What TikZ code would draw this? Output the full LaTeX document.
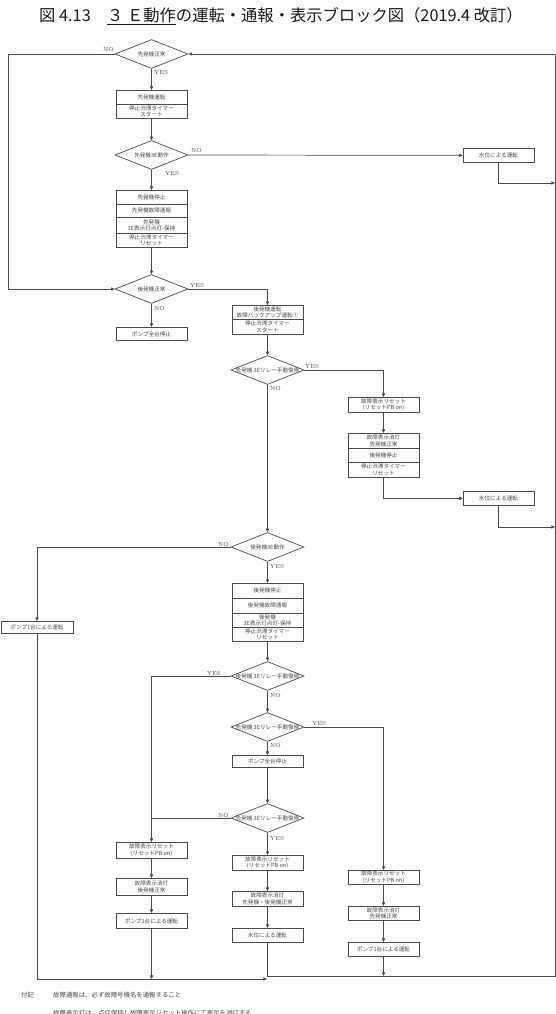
\documentclass[tikz,border=0pt]{standalone}
\usepackage{fontspec}
\newfontfamily\jp{Noto Sans CJK JP}
\usetikzlibrary{shapes.geometric,arrows.meta}
\definecolor{linegray}{HTML}{4A4A4A}
\definecolor{txtgray}{HTML}{474747}
\begin{document}
\begin{tikzpicture}[x=1pt,y=-1pt,
  line/.style={draw=linegray,line width=0.7pt},
  arr/.style={line,-{Triangle[length=3.6pt,width=3.2pt]}},
  dtxt/.style={font=\jp\fontsize{5.6}{6.5}\selectfont,text=txtgray,inner sep=0pt},
  dia/.style={diamond,draw=linegray,line width=0.7pt,minimum width=73pt,minimum height=29pt,inner sep=0pt},
  cell/.style={rectangle,draw=linegray,line width=0.7pt,minimum width=71pt,inner sep=0pt,anchor=north,
    font=\jp\fontsize{5.6}{6.5}\selectfont,text=txtgray,align=center},
  yn/.style={font=\fontsize{5.8}{6}\selectfont,text=txtgray,inner sep=0pt},
  foot/.style={font=\jp\fontsize{6.4}{7}\selectfont,text=txtgray,inner sep=0pt},
  ttl/.style={font=\jp\fontsize{16.3}{18}\selectfont,text=black!90,inner sep=0pt}
]
\useasboundingbox (0,0) rectangle (556,1014);

% title
\node[ttl] (title) at (281,16) {図 4.13\hspace{1em}\underline{３ Ｅ動作}の運転・通報・表示ブロック図（2019.4 改訂）};

% decisions
\node[dia,label={[dtxt]center:先発機正常}] (d1) at (151.5,54) {};
\node[dia,label={[dtxt]center:先発機3E動作}] (d2) at (151.5,155) {};
\node[dia,label={[dtxt]center:後発機正常}] (d3) at (151.5,289) {};
\node[dia,label={[dtxt]center:先発機 3Eリレー手動復帰}] (d4) at (267.5,370) {};
\node[dia,label={[dtxt]center:後発機3E動作}] (d5) at (267.5,547) {};
\node[dia,label={[dtxt]center:後発機 3Eリレー手動復帰}] (d6) at (267.5,676) {};
\node[dia,label={[dtxt]center:先発機 3Eリレー手動復帰}] (d7) at (267.5,727) {};
\node[dia,label={[dtxt]center:先発機 3Eリレー手動復帰}] (d8) at (267.5,818) {};

% process boxes
\node[cell,minimum height=14pt] (b1a) at (151.5,90) {先発機運転};
\node[cell,minimum height=14pt] (b1b) at (151.5,104) {停止渋滞タイマー\\スタート};
\node[cell,minimum height=14pt] (b2a) at (151.5,190) {先発機停止};
\node[cell,minimum height=13pt] (b2b) at (151.5,204) {先発機故障通報};
\node[cell,minimum height=16pt] (b2c) at (151.5,217) {先発機\\3E表示灯点灯-保持};
\node[cell,minimum height=14pt] (b2d) at (151.5,233) {停止渋滞タイマー\\リセット};
\node[cell,minimum height=13pt] (stop1) at (151.5,327) {ポンプ全台停止};
\node[cell,minimum height=14pt] (b3a) at (267.5,305) {後発機運転\\故障バックアップ運転①};
\node[cell,minimum height=15pt] (b3b) at (267.5,319) {停止渋滞タイマー\\スタート};
\node[cell,minimum height=14pt] (r1) at (498.5,148) {水位による運転};
\node[cell,minimum height=15pt] (r2) at (383.5,397) {故障表示リセット\\(リセットPB on)};
\node[cell,minimum height=15pt] (r3a) at (383.5,433) {故障表示消灯\\先発機正常};
\node[cell,minimum height=14pt] (r3b) at (383.5,448) {後発機停止};
\node[cell,minimum height=15pt] (r3c) at (383.5,462) {停止渋滞タイマー\\リセット};
\node[cell,minimum height=14pt] (r4) at (498.5,491) {水位による運転};
\node[cell,minimum height=15pt] (b4a) at (267.5,583) {後発機停止};
\node[cell,minimum height=15pt] (b4b) at (267.5,598) {後発機故障通報};
\node[cell,minimum height=14pt] (b4c) at (267.5,613) {後発機\\3E表示灯点灯-保持};
\node[cell,minimum height=14pt] (b4d) at (267.5,627) {停止渋滞タイマー\\リセット};
\node[cell,minimum height=12pt,minimum width=72pt] (l1) at (37,621) {ポンプ1台による運転};
\node[cell,minimum height=12pt] (stop2) at (267.5,755) {ポンプ全台停止};
\node[cell,minimum height=16pt] (l2) at (151.5,842) {故障表示リセット\\(リセットPB on)};
\node[cell,minimum height=17pt] (l3) at (151.5,878) {故障表示消灯\\後発機正常};
\node[cell,minimum height=15pt] (l4) at (151.5,913) {ポンプ1台による運転};
\node[cell,minimum height=15pt] (m1) at (267.5,855) {故障表示リセット\\(リセットPB on)};
\node[cell,minimum height=15pt] (m2) at (267.5,891) {故障表示消灯\\先発機・後発機正常};
\node[cell,minimum height=14pt] (m3) at (267.5,928) {水位による運転};
\node[cell,minimum height=14pt] (r5) at (383.5,870) {故障表示リセット\\(リセットPB on)};
\node[cell,minimum height=14pt] (r6) at (383.5,906) {故障表示消灯\\先発機正常};
\node[cell,minimum height=14pt] (r7) at (383.5,942) {ポンプ1台による運転};

% free ends of connectors
\coordinate (e1) at (555,183);
\coordinate (e2) at (555,527);
\coordinate (eL) at (151.5,979);
\coordinate (eM) at (267,979);
\coordinate (eR) at (383.5,976);
\coordinate (jn) at (151.5,818);

% YES / NO labels
\node[yn,anchor=base east] (n1) at (114,52) {NO};
\node[yn,anchor=base west] (y1) at (154,75) {YES};
\node[yn,anchor=base west] (n2) at (191,153) {NO};
\node[yn,anchor=base west] (y2) at (165,175) {YES};
\node[yn,anchor=base west] (y3) at (190,287) {YES};
\node[yn,anchor=base west] (n3) at (154,310) {NO};
\node[yn,anchor=base west] (y4) at (305,368) {YES};
\node[yn,anchor=base west] (n4) at (270,390) {NO};
\node[yn,anchor=base east] (n5) at (229,546) {NO};
\node[yn,anchor=base west] (y5) at (270,568) {YES};
\node[yn,anchor=base east] (y6) at (221,675) {YES};
\node[yn,anchor=base west] (n6) at (270,697) {NO};
\node[yn,anchor=base west] (y7) at (312,725) {YES};
\node[yn,anchor=base west] (n7) at (270,747) {NO};
\node[yn,anchor=base east] (n8) at (229,817) {NO};
\node[yn,anchor=base west] (y8) at (270,840) {YES};

% connectors
\draw[arr] (d1.south) -- (b1a.north);
\draw[arr] (b1b.south) -- (d2.north);
\draw[arr] (d2.south) -- (b2a.north);
\draw[arr] (d2.east) -- (r1.west);
\draw[arr] (r1.south) |- (e1);
\draw[arr] (b2d.south) -- (d3.north);
\draw[arr] (d1.west) -- (8,54) -- (8,289) -- (d3.west);
\draw[arr] (d3.east) -| (b3a.north);
\draw[arr] (d3.south) -- (stop1.north);
\draw[arr] (b3b.south) -- (d4.north);
\draw[arr] (d4.east) -| (r2.north);
\draw[arr] (r2.south) -- (r3a.north);
\draw[arr] (r3c.south) |- (r4.west);
\draw[arr] (r4.south) |- (e2);
\draw[arr] (d4.south) -- (d5.north);
\draw[arr] (d5.west) -| (l1.north);
\draw[arr] (d5.south) -- (b4a.north);
\draw[arr] (b4d.south) -- (d6.north);
\draw[arr] (d6.west) -| (l2.north);
\draw[arr] (d6.south) -- (d7.north);
\draw[arr] (d7.east) -| (r5.north);
\draw[arr] (d7.south) -- (stop2.north);
\draw[arr] (stop2.south) -- (d8.north);
\draw[line] (d8.west) -- (jn);
\draw[arr] (d8.south) -- (m1.north);
\draw[arr] (m1.south) -- (m2.north);
\draw[arr] (m2.south) -- (m3.north);
\draw[arr] (l2.south) -- (l3.north);
\draw[arr] (l3.south) -- (l4.north);
\draw[arr] (l4.south) -- (eL);
\draw[arr] (r5.south) -- (r6.north);
\draw[arr] (r6.south) -- (r7.north);
\draw[arr] (r7.south) -- (eR);
\draw[arr] (l1.south) |- (eM);
\draw[arr] (m3.south) -- (267.5,976) -- (555,976) -- (555,54) -- (d1.east);

% footnote
\node[foot,anchor=base west] (fk) at (21,997) {付記};
\node[foot,anchor=base west] (f1) at (53,997) {故障通報は、必ず故障号機名を通報すること};
\node[foot,anchor=base west] (f2) at (53,1015) {故障表示灯は、点灯保持し故障表示リセット操作にて表示を消灯する};
\end{tikzpicture}
\end{document}
